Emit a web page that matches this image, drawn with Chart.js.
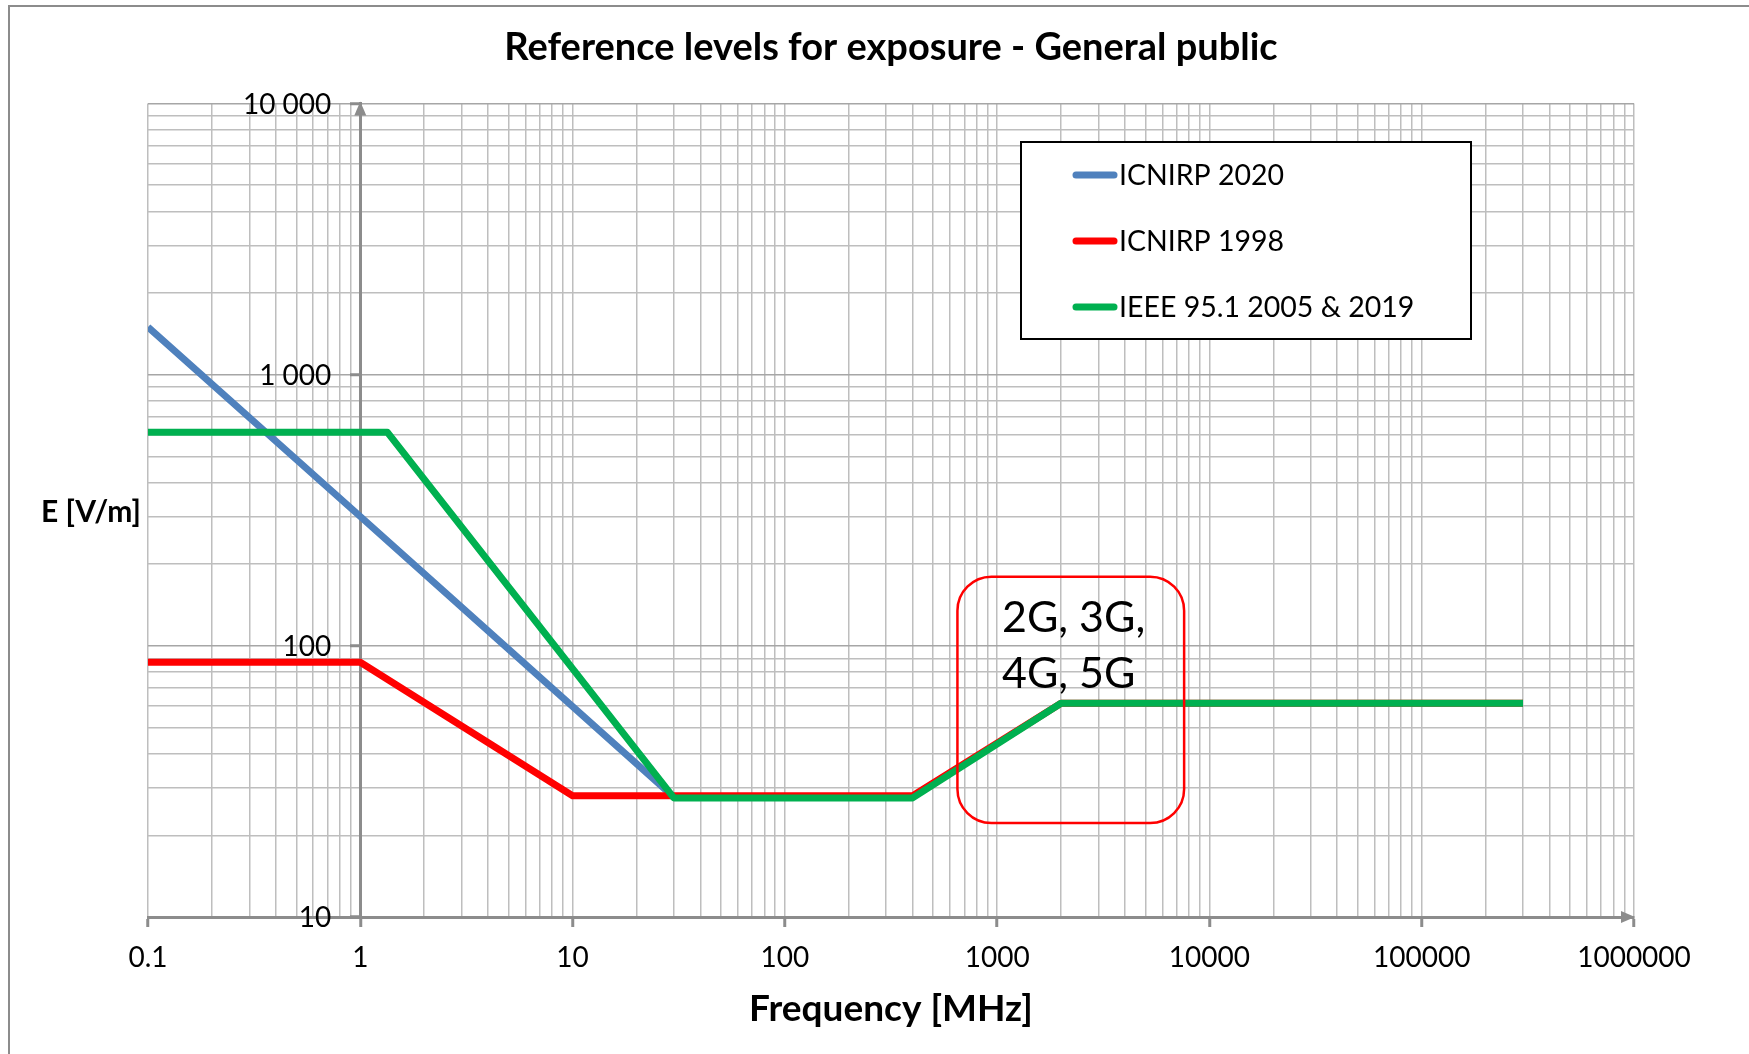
<!DOCTYPE html>
<html lang="en">
<head>
<meta charset="UTF-8">
<title>Reference levels for exposure - General public</title>
<script src="https://cdn.jsdelivr.net/npm/chart.js"></script>
<style>
  html, body { margin: 0; padding: 0; background: #fff; }
  canvas { display: block; }
</style>
</head>
<body>
<canvas id="chart" width="1749" height="1054"></canvas>
<script>
// breakpoints: frequency in MHz, E field in V/m
const seriesNames = ['ICNIRP 2020', 'ICNIRP 1998', 'IEEE 95.1 2005 & 2019'];
const seriesColors = ['#4f81bd', '#ff0000', '#00b050'];

const icnirp2020Freq = [0.1, 1, 30];
const icnirp2020E = [1500, 300, 27.7];

const icnirp1998Freq = [0.1, 1, 10, 400, 2000, 300000];
const icnirp1998E = [87, 87, 28, 28, 61.4, 61.4];

const ieeeFreq = [0.1, 1.34, 30, 400, 2000, 300000];
const ieeeE = [614, 614, 27.5, 27.5, 61.4, 61.4];

const xTickValues = [0.1, 1, 10, 100, 1000, 10000, 100000, 1000000];
const xTickLabels = ['0.1', '1', '10', '100', '1000', '10000', '100000', '1000000'];
const yTickValues = [10, 100, 1000, 10000];
const yTickLabels = ['10', '100', '1 000', '10 000'];

const bandNote = ['2G, 3G,', '4G, 5G'];

const FONT = 'Lato, "Open Sans", sans-serif';
const AXIS_GREY = '#8c8c8c';

// decades plus 2..9 in between, used for the grid
function logTicks(decades) {
  const out = [];
  decades.forEach((d, i) => {
    out.push({ value: d });
    if (i < decades.length - 1) {
      for (let k = 2; k <= 9; k++) out.push({ value: d * k });
    }
  });
  return out;
}

function decadeIndex(list, v) {
  return list.findIndex(d => Math.abs(d - v) < d * 1e-6);
}

function toPoints(xs, ys) {
  return xs.map((f, i) => ({ x: f, y: ys[i] }));
}

// frame, arrows, y labels, legend box, axis label and the 2G-5G box
const decorations = {
  id: 'decorations',
  beforeDraw(chart) {
    const ctx = chart.ctx;
    ctx.save();
    ctx.fillStyle = '#fff';
    ctx.fillRect(0, 0, chart.width, chart.height);
    ctx.strokeStyle = AXIS_GREY;
    ctx.lineWidth = 2;
    ctx.beginPath();
    ctx.moveTo(9, chart.height);
    ctx.lineTo(9, 6);
    ctx.lineTo(chart.width, 6);
    ctx.stroke();
    ctx.restore();
  },
  afterDatasetsDraw(chart) {
    const { ctx, chartArea, scales: { x, y } } = chart;
    ctx.save();

    // axis arrows
    const ax = x.getPixelForValue(1);
    ctx.fillStyle = AXIS_GREY;
    ctx.beginPath();
    ctx.moveTo(ax, chartArea.top - 2);
    ctx.lineTo(ax - 6, chartArea.top + 12);
    ctx.lineTo(ax + 6, chartArea.top + 12);
    ctx.closePath();
    ctx.fill();
    ctx.beginPath();
    ctx.moveTo(chartArea.right + 1, chartArea.bottom);
    ctx.lineTo(chartArea.right - 13, chartArea.bottom - 6);
    ctx.lineTo(chartArea.right - 13, chartArea.bottom + 6);
    ctx.closePath();
    ctx.fill();

    // y tick labels, left of the axis that crosses at 1 MHz
    ctx.fillStyle = '#000';
    ctx.font = '28px ' + FONT;
    ctx.textAlign = 'right';
    ctx.textBaseline = 'middle';
    yTickValues.forEach((v, i) => {
      ctx.fillText(yTickLabels[i], ax - 29, y.getPixelForValue(v) + 1);
    });

    // y axis title, horizontal
    ctx.font = 'bold 30px ' + FONT;
    ctx.textAlign = 'center';
    ctx.fillText('E [V/m]', 91, 512);

    // rounded box around the mobile bands
    const bx0 = x.getPixelForValue(650), bx1 = x.getPixelForValue(7600);
    const by0 = y.getPixelForValue(180), by1 = y.getPixelForValue(22.2);
    const r = 34;
    ctx.strokeStyle = '#ff0000';
    ctx.lineWidth = 2.5;
    ctx.beginPath();
    ctx.moveTo(bx0 + r, by0);
    ctx.lineTo(bx1 - r, by0);
    ctx.arcTo(bx1, by0, bx1, by0 + r, r);
    ctx.lineTo(bx1, by1 - r);
    ctx.arcTo(bx1, by1, bx1 - r, by1, r);
    ctx.lineTo(bx0 + r, by1);
    ctx.arcTo(bx0, by1, bx0, by1 - r, r);
    ctx.lineTo(bx0, by0 + r);
    ctx.arcTo(bx0, by0, bx0 + r, by0, r);
    ctx.closePath();
    ctx.stroke();

    ctx.fillStyle = '#000';
    ctx.font = '43px ' + FONT;
    ctx.textAlign = 'left';
    ctx.textBaseline = 'alphabetic';
    ctx.fillText(bandNote[0], 1002, 632);
    ctx.fillText(bandNote[1], 1002, 688);

    // legend
    ctx.fillStyle = '#fff';
    ctx.fillRect(1021, 142, 450, 197);
    ctx.strokeStyle = '#000';
    ctx.lineWidth = 2;
    ctx.strokeRect(1021, 142, 450, 197);
    ctx.font = '28.5px ' + FONT;
    ctx.textBaseline = 'middle';
    chart.data.datasets.forEach((ds, i) => {
      const ly = 175 + i * 66;
      ctx.strokeStyle = ds.borderColor;
      ctx.lineWidth = 7;
      ctx.lineCap = 'round';
      ctx.beginPath();
      ctx.moveTo(1076, ly);
      ctx.lineTo(1114, ly);
      ctx.stroke();
      ctx.fillStyle = '#000';
      ctx.fillText(ds.label, 1119, ly + 1);
    });

    ctx.restore();
  }
};

const ctx = document.getElementById('chart').getContext('2d');
new Chart(ctx, {
  type: 'line',
  data: {
    datasets: [
      { label: seriesNames[0], data: toPoints(icnirp2020Freq, icnirp2020E), borderColor: seriesColors[0], order: 3 },
      { label: seriesNames[1], data: toPoints(icnirp1998Freq, icnirp1998E), borderColor: seriesColors[1], order: 2 },
      { label: seriesNames[2], data: toPoints(ieeeFreq, ieeeE), borderColor: seriesColors[2], order: 1 }
    ]
  },
  options: {
    responsive: false,
    animation: false,
    layout: { padding: { left: 148, right: 115, top: 0, bottom: 0 } },
    elements: {
      line: { borderWidth: 7, tension: 0, fill: false, borderJoinStyle: 'round' },
      point: { radius: 0, hoverRadius: 0 }
    },
    plugins: {
      legend: { display: false },
      tooltip: { enabled: false },
      title: {
        display: true,
        text: 'Reference levels for exposure - General public',
        color: '#000',
        font: { family: FONT, size: 38, weight: 'bold' },
        padding: { top: 25, bottom: 33 }
      }
    },
    scales: {
      x: {
        type: 'logarithmic',
        position: 'bottom',
        min: 0.1,
        max: 1000000,
        afterBuildTicks: (scale) => { scale.ticks = logTicks(xTickValues); },
        afterFit: (scale) => { scale.height = 137; },
        grid: {
          color: '#bebebe',
          lineWidth: 1.5,
          tickLength: 10,
          tickWidth: 3,
          tickColor: (c) => (c.tick && decadeIndex(xTickValues, c.tick.value) >= 0) ? AXIS_GREY : 'rgba(0,0,0,0)'
        },
        border: { display: true, color: AXIS_GREY, width: 3 },
        ticks: {
          autoSkip: false,
          maxRotation: 0,
          padding: 14,
          color: '#000',
          font: { family: FONT, size: 28 },
          callback: (v) => { const i = decadeIndex(xTickValues, v); return i >= 0 ? xTickLabels[i] : ''; }
        },
        title: {
          display: true,
          text: 'Frequency [MHz]',
          color: '#000',
          font: { family: FONT, size: 37, weight: 'bold' },
          padding: { top: 0, bottom: 23 }
        }
      },
      y: {
        type: 'logarithmic',
        position: { x: 1 },
        min: 10,
        max: 10000,
        afterBuildTicks: (scale) => { scale.ticks = logTicks(yTickValues); },
        grid: {
          color: (c) => (c.tick && decadeIndex(yTickValues, c.tick.value) >= 0) ? '#a6a6a6' : '#bebebe',
          lineWidth: 1.5,
          tickLength: 9,
          tickWidth: 3,
          tickColor: (c) => (c.tick && decadeIndex(yTickValues, c.tick.value) >= 0) ? AXIS_GREY : 'rgba(0,0,0,0)'
        },
        border: { display: true, color: AXIS_GREY, width: 3 },
        ticks: { display: false, autoSkip: false }
      }
    }
  },
  plugins: [decorations]
});
</script>
</body>
</html>
